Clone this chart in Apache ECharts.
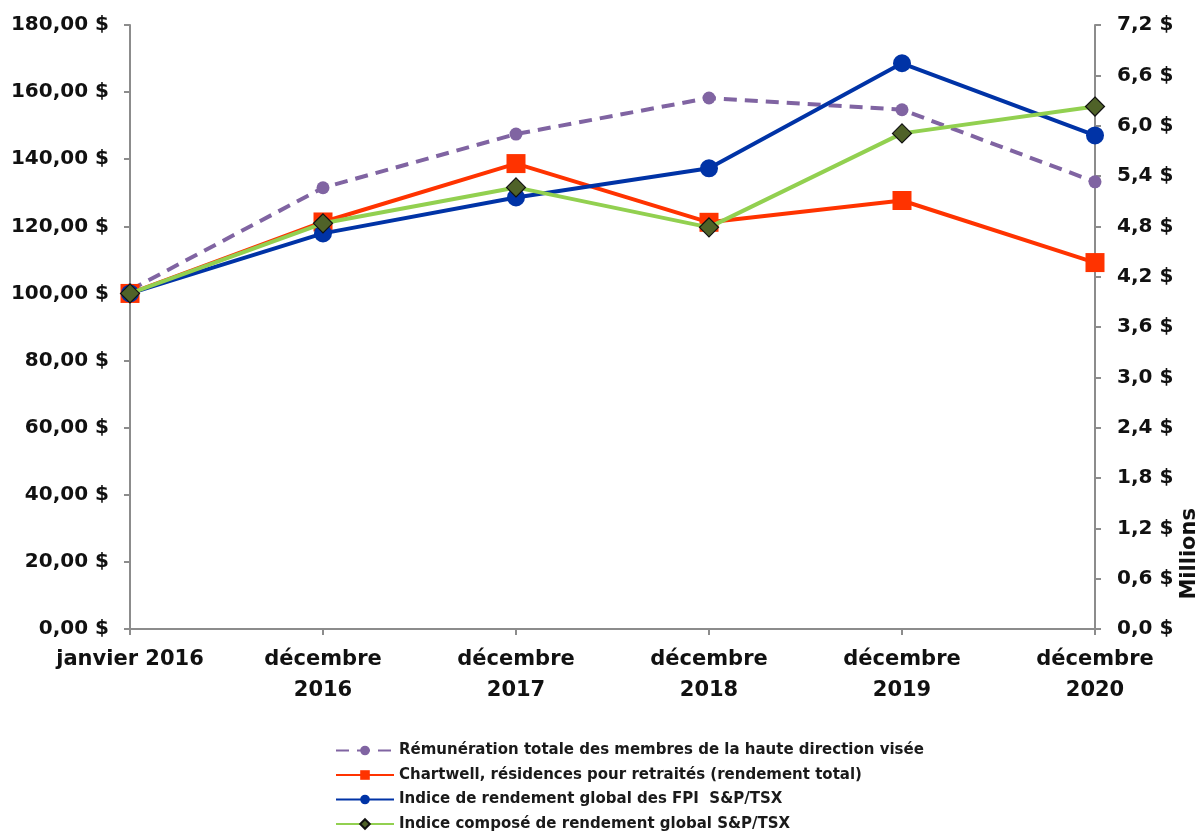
<!DOCTYPE html>
<html><head><meta charset="utf-8">
<script src="https://cdn.jsdelivr.net/npm/echarts@6/dist/echarts.min.js"></script>
<style>html,body{margin:0;padding:0;background:#fff}#c{width:1201px;height:835px}</style>
</head><body><div id="c"></div>
<script>
const categories = ['janvier 2016', 'décembre\n2016', 'décembre\n2017', 'décembre\n2018', 'décembre\n2019', 'décembre\n2020'];
const seriesNames = [
  'Rémunération totale des membres de la haute direction visée',
  'Chartwell, résidences pour retraités (rendement total)',
  'Indice de rendement global des FPI  S&P/TSX',
  'Indice composé de rendement global S&P/TSX'
];
const remuneration = [4.04, 5.26, 5.90, 6.33, 6.19, 5.33];   // millions $, right axis
const chartwell = [100, 121.3, 138.7, 121.2, 127.7, 109.2];
const fpi = [100, 117.9, 128.6, 137.3, 168.6, 147.1];
const compose = [100, 120.9, 131.6, 119.7, 147.7, 155.7];

const fmtLeft = v => v.toFixed(2).replace('.', ',') + ' $';
const fmtRight = v => v.toFixed(1).replace('.', ',') + ' $';
const FONT = '"DejaVu Sans", Verdana, sans-serif';
const axisLine = {show: true, lineStyle: {color: '#8c8c8c', width: 2}};
const axisTick = {show: true, length: 6, lineStyle: {color: '#8c8c8c', width: 2}};
const lab = {color: '#111', fontWeight: 'bold', fontSize: 20, fontFamily: FONT};

const chart = echarts.init(document.getElementById('c'));
chart.setOption({
  animation: false,
  backgroundColor: '#fff',
  grid: {left: 130, right: 106, top: 25, bottom: 206, containLabel: false},
  xAxis: {
    type: 'category', data: categories, boundaryGap: false,
    axisLine, axisTick: Object.assign({alignWithLabel: true}, axisTick),
    axisLabel: Object.assign({}, lab, {fontSize: 21, margin: 15, lineHeight: 31, interval: 0}),
    splitLine: {show: false}
  },
  yAxis: [
    {type: 'value', min: 0, max: 180, interval: 20, position: 'left',
     axisLine, axisTick, splitLine: {show: false},
     axisLabel: Object.assign({}, lab, {formatter: fmtLeft, margin: 21})},
    {type: 'value', min: 0, max: 7.2, interval: 0.6, position: 'right',
     axisLine, axisTick, splitLine: {show: false},
     axisLabel: Object.assign({}, lab, {formatter: fmtRight, margin: 22})}
  ],
  legend: {
    orient: 'vertical', left: 335, top: 743, height: 120, padding: 0,
    itemWidth: 58, itemHeight: 12, itemGap: 9.5,
    textStyle: {fontSize: 15, fontWeight: 'bold', color: '#1a1a1a', fontFamily: FONT},
    data: seriesNames
  },
  graphic: [{
    type: 'text', left: 1179, top: 508, rotation: Math.PI / 2,
    style: {text: 'Millions', font: 'bold 21px "DejaVu Sans", Verdana, sans-serif', fill: '#111'}
  }],
  series: [
    {name: seriesNames[0], type: 'line', yAxisIndex: 1, data: remuneration,
     symbol: 'circle', symbolSize: 13, itemStyle: {color: '#8064a2'},
     lineStyle: {color: '#8064a2', width: 4, type: [13, 8]}, z: 2},
    {name: seriesNames[1], type: 'line', data: chartwell,
     symbol: 'rect', symbolSize: 19, itemStyle: {color: '#ff3300'},
     lineStyle: {color: '#ff3300', width: 4}, z: 3},
    {name: seriesNames[2], type: 'line', data: fpi,
     symbol: 'circle', symbolSize: 18, itemStyle: {color: '#0033a6'},
     lineStyle: {color: '#0033a6', width: 4}, z: 4},
    {name: seriesNames[3], type: 'line', data: compose,
     symbol: 'diamond', symbolSize: 19, itemStyle: {color: '#4f6228', borderColor: '#111', borderWidth: 1.2},
     lineStyle: {color: '#92d050', width: 4}, z: 5}
  ]
});
</script></body></html>
